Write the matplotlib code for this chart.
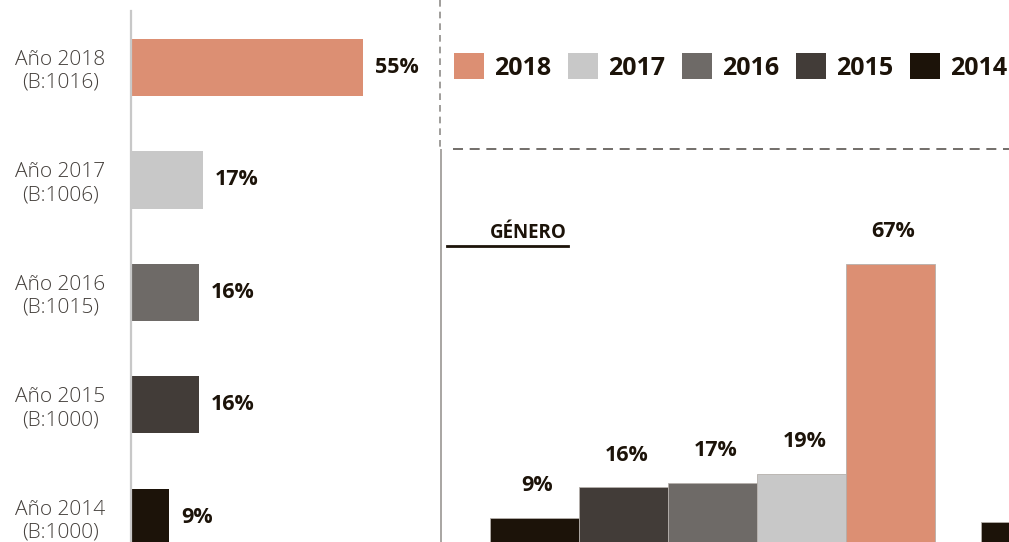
import matplotlib
matplotlib.use("Agg")
import matplotlib.pyplot as plt
from matplotlib.lines import Line2D
import numpy as np

plt.rcParams['font.family'] = ['Open Sans', 'DejaVu Sans']

# ---- data ----
years = ['2018', '2017', '2016', '2015', '2014']
year_labels = ['Año 2018\n(B:1016)', 'Año 2017\n(B:1006)', 'Año 2016\n(B:1015)',
               'Año 2015\n(B:1000)', 'Año 2014\n(B:1000)']
left_values = [55, 17, 16, 16, 9]
colors = {'2018': '#dc8f73', '2017': '#c8c8c8', '2016': '#6e6a67',
          '2015': '#423c38', '2014': '#1c1309'}

right_years = ['2014', '2015', '2016', '2017', '2018']
right_groups = ['Grupo 1', 'Grupo 2']
right_values = {
    '2014': [9, 8],
    '2015': [16, np.nan],
    '2016': [17, np.nan],
    '2017': [19, np.nan],
    '2018': [67, np.nan],
}
section_title = 'GÉNERO'

text_color = '#1c1309'
W, H = 1009, 542
fig = plt.figure(figsize=(W / 100, H / 100), dpi=100)

# ---- left panel ----
ax1 = fig.add_axes([131 / W, 0, (440 - 131) / W, 1])
ypos = np.arange(len(years))
ax1.barh(ypos, left_values, height=0.507, color=[colors[y] for y in years])
ax1.set_xlim(0, 309 / 4.22)
ax1.set_ylim(4.218, -0.6)
for y, v in zip(ypos, left_values):
    ax1.annotate(f'{v}%', (v, y), xytext=(8.5, 0), textcoords='offset points',
                 va='center', ha='left', fontsize=15.5, fontweight='bold',
                 color=text_color)
for s in ['top', 'right', 'bottom']:
    ax1.spines[s].set_visible(False)
ax1.spines['left'].set_color('#c8c8c8')
ax1.spines['left'].set_linewidth(1.6)
ax1.spines['left'].set_bounds(-0.502, 4.218)
ax1.set_xticks([])
ax1.set_yticks(ypos, year_labels)
ax1.tick_params(axis='y', length=0, pad=51)
for lab in ax1.get_yticklabels():
    lab.set_ha('center')
    lab.set_multialignment('center')
    lab.set_fontsize(15)
    lab.set_fontweight('light')
    lab.set_color('#433e3a')
    lab.set_linespacing(1.2)

# ---- right panel ----
ax2 = fig.add_axes([441 / W, 0, (W - 441) / W, (542 - 150) / H])
bw = 89 / 491
gx = np.arange(len(right_groups))
for j, yr in enumerate(right_years):
    xs = gx + (j - 2) * bw
    vals = right_values[yr]
    ax2.bar(xs, vals, width=bw, color=colors[yr], label=yr,
            edgecolor='#b5b0ab', linewidth=0.6)
    for x, v in zip(xs, vals):
        if not np.isnan(v) and x < 0.6:
            ax2.annotate(f'{v}%', (x, v), xytext=(2, 23), textcoords='offset points',
                         ha='center', va='center', fontsize=15.5,
                         fontweight='bold', color=text_color)
ax2.set_xlim((441 - 712.5) / 491, (1009 - 712.5) / 491)
ax2.set_ylim((557 - 542) / 4.375, (557 - 150) / 4.375)
for s in ['top', 'right', 'bottom']:
    ax2.spines[s].set_visible(False)
ax2.spines['left'].set_color('#a8a5a2')
ax2.spines['left'].set_linewidth(1.4)
ax2.set_xticks([])
ax2.set_yticks([])

# legend
handles, labels = ax2.get_legend_handles_labels()
leg = fig.legend(handles[::-1], labels[::-1], loc='center left',
                 bbox_to_anchor=(454 / W, 1 - 67 / H), ncol=5, frameon=False,
                 borderpad=0, borderaxespad=0, handlelength=1.2,
                 handleheight=1.2, handletextpad=0.4, columnspacing=0.68,
                 prop={'size': 18, 'weight': 'bold'})
for t in leg.get_texts():
    t.set_color(text_color)
for h in leg.legend_handles:
    h.set_linewidth(0)

# decorative lines
fig.add_artist(Line2D([440 / W, 440 / W], [1, 1 - 150 / H], transform=fig.transFigure,
                      color='#8f8c89', lw=1.2, ls=(0, (4, 3))))
fig.add_artist(Line2D([453 / W, 1], [1 - 149 / H, 1 - 149 / H], transform=fig.transFigure,
                      color='#5a5550', lw=1.2, ls=(0, (6, 4))))

# section title
fig.text(528.5 / W, 1 - 233 / H, section_title, ha='center', va='center',
         fontsize=13.5, fontweight='bold', color=text_color)
fig.add_artist(Line2D([447 / W, 568 / W], [1 - 246 / H, 1 - 246 / H],
                      transform=fig.transFigure, color=text_color, lw=2))

fig.savefig('out.png', dpi=100)
